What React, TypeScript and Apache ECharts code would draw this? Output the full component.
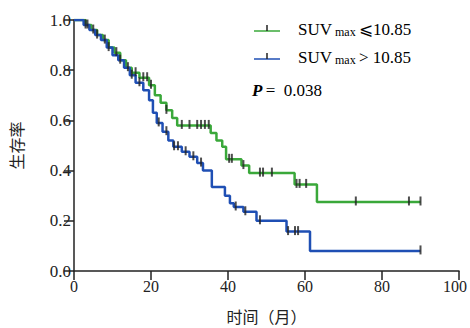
import React, { useEffect, useRef } from "react";
import * as echarts from "echarts";

// Kaplan-Meier step points: time (months) at which survival drops, survival after the drop
const greenTimes = [0, 3, 4.5, 6, 7.5, 9, 10.5, 12, 13.5, 15, 17, 19.5, 21, 22.5, 24, 25.5, 26.8, 35.5, 37, 38.5, 39.5, 43.5, 45.5, 57.3, 63.1, 90];
const greenSurv = [1.0, 0.98, 0.96, 0.94, 0.92, 0.89, 0.87, 0.84, 0.81, 0.79, 0.77, 0.74, 0.70, 0.67, 0.64, 0.61, 0.58, 0.55, 0.52, 0.495, 0.445, 0.42, 0.39, 0.345, 0.275, 0.275];
const greenCensor = [3.5, 5, 8, 11, 14, 16, 18, 19, 20, 24, 28, 30, 32, 33, 34, 35, 40.3, 41, 44, 48.3, 49.1, 51.4, 57.8, 58.6, 60.3, 73.2, 87, 90];

const blueTimes = [0, 2.5, 4, 5.5, 7, 8.5, 10, 11.5, 13, 14.5, 16, 18, 19.5, 20.5, 21.5, 23, 24.5, 25.8, 28, 30, 32, 33.5, 35.8, 39.2, 40.5, 41.5, 44, 47.4, 55.2, 61.3, 90];
const blueSurv = [1.0, 0.98, 0.96, 0.94, 0.92, 0.89, 0.86, 0.84, 0.81, 0.78, 0.75, 0.72, 0.68, 0.63, 0.59, 0.555, 0.52, 0.495, 0.475, 0.455, 0.43, 0.40, 0.335, 0.30, 0.27, 0.255, 0.236, 0.20, 0.157, 0.08, 0.08];
const blueCensor = [3, 6, 9, 12, 15, 17, 22, 24, 26, 27, 29, 31, 33, 42, 44.5, 48.3, 55.6, 57.4, 58.2, 90];

const xTicks = [0, 20, 40, 60, 80, 100];
const yTicks = [0, 0.2, 0.4, 0.6, 0.8, 1.0];

const GREEN = "#3aa83a";
const BLUE = "#1f4fb4";
const INK = "#222222";
const SERIF = "Liberation Serif";
const CJK = "Noto Sans CJK SC";

function survAt(times: number[], surv: number[], t: number) {
  let s = surv[0];
  for (let i = 0; i < times.length; i++) {
    if (times[i] <= t) s = surv[i];
  }
  return s;
}

export default function App() {
  const ref = useRef<HTMLDivElement>(null);
  useEffect(() => {
    if (!ref.current) return;
    const chart = echarts.init(ref.current, undefined, { renderer: "svg" });
    const gLine = greenTimes.map((t, i) => [t, greenSurv[i]]);
    const bLine = blueTimes.map((t, i) => [t, blueSurv[i]]);
    const gC = greenCensor.map((t) => [t, survAt(greenTimes, greenSurv, t)]);
    const bC = blueCensor.map((t) => [t, survAt(blueTimes, blueSurv, t)]);
    const censorStyle = {
      type: "scatter" as const,
      symbol: "rect",
      symbolSize: [2, 9],
      symbolOffset: [0, -1],
      itemStyle: { color: INK },
      z: 5,
      silent: true,
    };
    const richLegend = {
      a: { fontFamily: SERIF, fontSize: 17, color: INK },
      b: { fontFamily: SERIF, fontSize: 12, color: INK, padding: [6, 0, 0, 0] },
    };
    chart.setOption({
      animation: false,
      grid: { left: 74, right: 11, top: 20, bottom: 57, outerBoundsMode: "none", containLabel: false },
      xAxis: {
        type: "value",
        min: 0,
        max: 100,
        interval: 20,
        splitLine: { show: false },
        axisLine: { lineStyle: { color: INK, width: 1.5 } },
        axisTick: { length: 9, lineStyle: { color: INK, width: 1.5 } },
        axisLabel: {
          color: INK,
          fontFamily: SERIF,
          fontSize: 16,
          margin: 7,
          formatter: (v: number) =>
            xTicks.includes(v) ? (v === 100 ? "{r|100}" : String(v)) : "",
          rich: {
            r: { fontFamily: SERIF, fontSize: 16, color: INK, padding: [0, 8, 0, 0] },
          },
        },
        name: "时间（月）",
        nameLocation: "middle",
        nameGap: 37,
        nameTextStyle: { color: INK, fontFamily: CJK, fontSize: 16, lineHeight: 16 },
      },
      yAxis: {
        type: "value",
        min: 0,
        max: 1,
        interval: 0.2,
        splitLine: { show: false },
        axisLine: { show: true, lineStyle: { color: INK, width: 1.5 } },
        axisTick: { show: true, length: 10, lineStyle: { color: INK, width: 1.5 } },
        axisLabel: {
          color: INK,
          fontFamily: SERIF,
          fontSize: 17,
          margin: 3,
          formatter: (v: number) => (yTicks.some((y) => Math.abs(y - v) < 1e-9) ? v.toFixed(1) : ""),
        },
        name: "生存率",
        nameLocation: "middle",
        nameGap: 50,
        nameTextStyle: { color: INK, fontFamily: CJK, fontSize: 16 },
      },
      series: [
        {
          type: "line",
          step: "end",
          data: gLine,
          showSymbol: false,
          lineStyle: { color: GREEN, width: 2.5 },
          z: 3,
          silent: true,
        },
        {
          type: "line",
          step: "end",
          data: bLine,
          showSymbol: false,
          lineStyle: { color: BLUE, width: 2.5 },
          z: 4,
          silent: true,
        },
        { ...censorStyle, data: gC },
        { ...censorStyle, data: bC },
      ],
      graphic: [
        { type: "line", shape: { x1: 254, y1: 31, x2: 280, y2: 31 }, style: { stroke: GREEN, lineWidth: 1.5 } },
        { type: "line", shape: { x1: 267, y1: 25, x2: 267, y2: 31 }, style: { stroke: INK, lineWidth: 1.5 } },
        { type: "line", shape: { x1: 254, y1: 59, x2: 280, y2: 59 }, style: { stroke: BLUE, lineWidth: 1.5 } },
        { type: "line", shape: { x1: 267, y1: 53, x2: 267, y2: 59 }, style: { stroke: INK, lineWidth: 1.5 } },
        {
          type: "text",
          x: 298,
          y: 29,
          style: {
            text: "{a|SUV}{b| max} {a|⩽10.85}",
            verticalAlign: "middle",
            rich: richLegend,
          },
        },
        {
          type: "text",
          x: 298,
          y: 57,
          style: {
            text: "{a|SUV}{b| max} {a|> 10.85}",
            verticalAlign: "middle",
            rich: richLegend,
          },
        },
        {
          type: "text",
          x: 252,
          y: 90,
          style: {
            text: "{p|P} {a|=  0.038}",
            verticalAlign: "middle",
            rich: {
              p: { fontFamily: SERIF, fontSize: 17, fontStyle: "italic", fontWeight: "bold", color: INK },
              a: { fontFamily: SERIF, fontSize: 17, color: INK },
            },
          },
        },
      ],
    });
    return () => chart.dispose();
  }, []);
  return (
    <div
      ref={ref}
      style={{ position: "absolute", left: 0, top: 0, width: 470, height: 328, background: "#fff" }}
    />
  );
}
